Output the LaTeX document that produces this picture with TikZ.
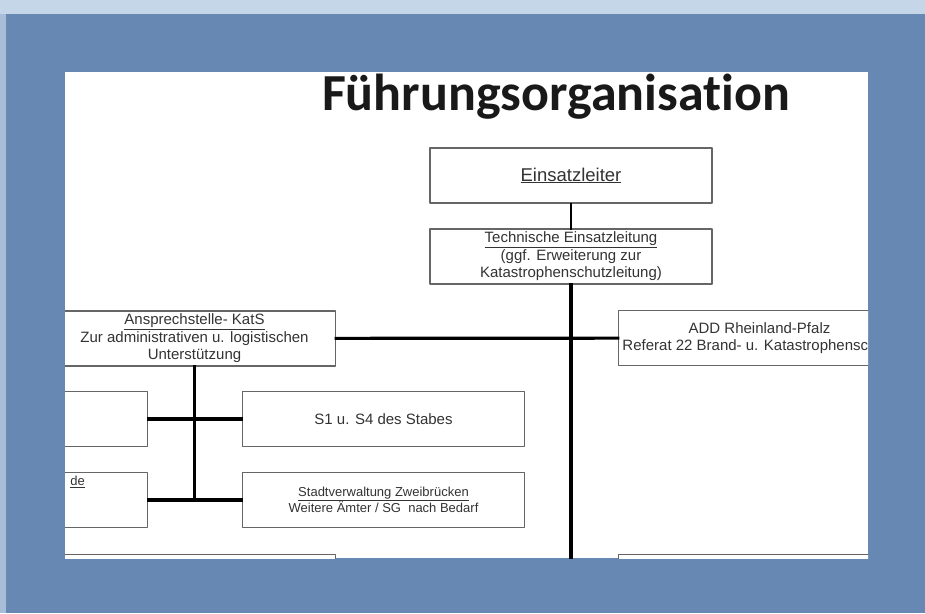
\documentclass[tikz,border=0pt]{standalone}
\usepackage{fontspec}
\setmainfont{Liberation Sans}
\newfontfamily\titlefont[Ligatures=NoCommon]{Carlito}
\definecolor{bgblue}{RGB}{104,136,180}
\definecolor{bglight}{RGB}{196,214,232}
\begin{document}
\begin{tikzpicture}[x=1pt,y=-1pt,line join=round,line cap=rect,
		box/.style={draw=black!60,line width=1.6pt,fill=white,text=black!80,align=center,
			minimum width=282pt,minimum height=55pt,inner sep=1pt,font=\fontsize{15}{17.5}\selectfont},
		link/.style={line width=3.2pt,black}]
	\useasboundingbox (0,0) rectangle (925,613);
	\fill[bgblue] (0,0) rectangle (925,613);
	\fill[bglight] (0,0) rectangle (925,14);
	\fill[bglight!70!bgblue] (0,14) rectangle (6,613);
	\fill[white] (65,72) rectangle (868,558);
	\begin{scope}
		\clip (65,72) rectangle (868,558);
		\node[text=black!90,font=\titlefont\bfseries\fontsize{52}{56}\selectfont] (title) at (556,97) {Führungsorganisation};
		\node[box,font=\fontsize{18.5}{21}\selectfont] (lead) at (571,175.5) {\underline{Einsatzleiter}};
		\node[box] (tel) at (571,256.5) {\underline{Technische Einsatzleitung}\\(ggf. Erweiterung zur\\Katastrophenschutzleitung)};
		\node[box] (kats) at (194.5,338.5) {\underline{Ansprechstelle- KatS}\\Zur administrativen u. logistischen\\Unterstützung};
		\node[box] (add) at (759.5,338) {ADD Rheinland-Pfalz\\Referat 22 Brand- u. Katastrophenschutz};
		\node[box] (rowa) at (6.5,419) {};
		\node[box] (stab) at (383.5,419) {S1 u. S4 des Stabes};
		\node[box] (rowb) at (6.5,500) {};
		\node[box,font=\fontsize{13}{15}\selectfont] (stv) at (383.5,500) {\underline{Stadtverwaltung Zweibrücken}\\Weitere Ämter / SG\ \ nach Bedarf};
		\node[anchor=east,inner sep=0pt,text=black!80,font=\fontsize{13}{15}\selectfont] (rowbtext) at (85,482) {\underline{de}};
		\node[box] (lowl) at (194.5,582) {};
		\node[box] (lowr) at (759.5,582) {};
		\coordinate (trunk) at (571,562);
		\coordinate (branch) at (194.5,500);
		\draw[link,line width=2.6pt] (lead) -- (tel);
		\draw[link] (tel) -- (trunk);
		\draw[link] (kats) -- (add);
		\draw[link] (kats) -- (branch);
		\draw[link] (rowa) -- (stab);
		\draw[link] (rowb) -- (stv);
	\end{scope}
\end{tikzpicture}
\end{document}
